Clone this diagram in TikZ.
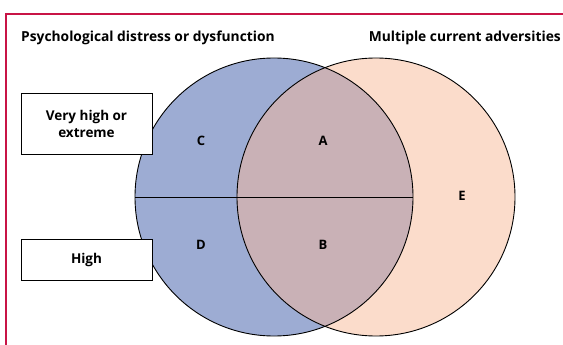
\documentclass[tikz,border=0pt]{standalone}
\usepackage{fontspec}
\setmainfont{Open Sans}
\usepackage{xcolor}
\usepackage{tikz}
\usetikzlibrary{positioning}
\definecolor{distress}{RGB}{157,172,211}
\definecolor{adversity}{RGB}{251,220,203}
\definecolor{overlap}{RGB}{201,177,182}
\definecolor{lancet}{RGB}{200,20,70}

\begin{document}
\begin{tikzpicture}[x=1pt,y=-1pt,
                          frame/.style={line width=1.1pt, lancet},
                          setline/.style={line width=0.9pt, black},
                          levelbox/.style={draw, line width=0.8pt, fill=white, align=center,
                                           minimum width=131pt, inner sep=0pt, font=\bfseries\fontsize{13.5}{17}\selectfont},
                          region/.style={font=\bfseries\fontsize{13}{15}\selectfont},
                          heading/.style={font=\bfseries\fontsize{13.8}{16}\selectfont, inner sep=0pt},
                         ]

\useasboundingbox (0,0) rectangle (563,345);

\coordinate (L) at (274,197);
\coordinate (R) at (376,197);

% frame
\draw[frame] (6,345) -- (6,14) -- (563,14);

% the two sets
\fill[distress] (L) circle (139pt);
\fill[adversity] (R) circle (139pt);
\begin{scope}
\clip (L) circle (139pt);
\fill[overlap] (R) circle (139pt);
\end{scope}

\draw[setline] (L) circle (139pt);
\draw[setline] (R) circle (139pt);
\draw[setline] ([xshift=-139pt]L) -- ([xshift=139pt]L);

% headings
\node[heading, anchor=base west] (distresstitle) at (21,42) {Psychological distress or dysfunction};
\node[heading, anchor=base east] (adversitytitle) at (561,42) {Multiple current adversities};

% levels
\node[levelbox, minimum height=61pt] (veryhigh) at (86.5,123.5) {Very high or\\extreme};
\node[levelbox, minimum height=41pt] (high) at (86.5,259.5) {High};

% regions
\node[region] (C) at (201,141) {C};
\node[region] (A) at (323,141) {A};
\node[region] (E) at (462,196) {E};
\node[region] (D) at (201,245) {D};
\node[region] (B) at (323,245) {B};

\end{tikzpicture}
\end{document}
